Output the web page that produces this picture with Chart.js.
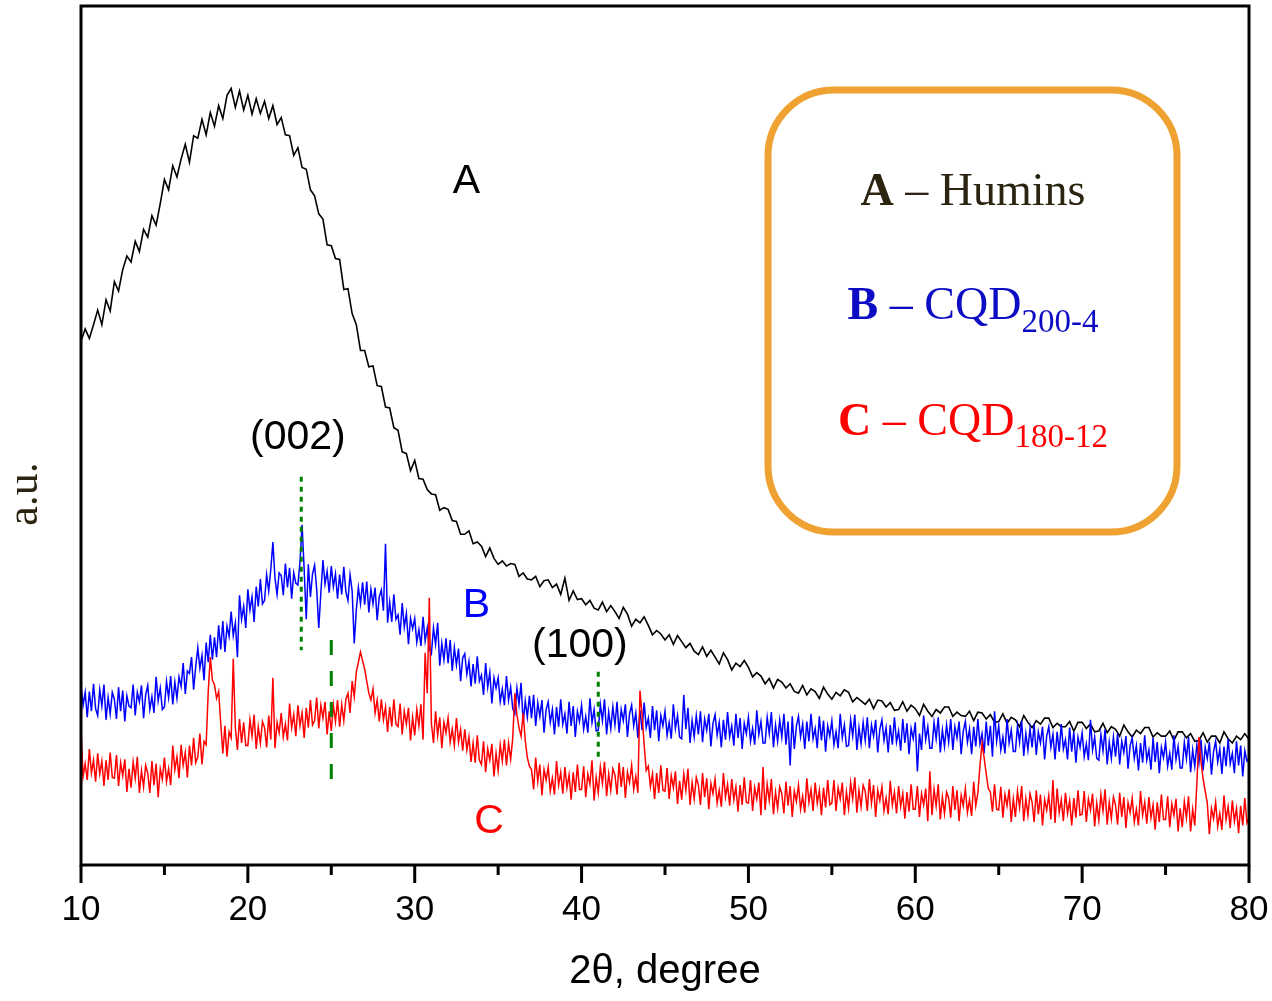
<!DOCTYPE html>
<html>
<head>
<meta charset="utf-8">
<script src="https://cdn.jsdelivr.net/npm/chart.js@4.4.1/dist/chart.umd.min.js"></script>
<style>
  html, body { margin: 0; padding: 0; background: #fff; }
  #wrap { width: 1272px; height: 1001px; }
</style>
</head>
<body>
<div id="wrap"><canvas id="xrd" width="1272" height="1001"></canvas></div>
<script>
// =====================
// Data (2θ from 10° to 80°)
// =====================
const angleStart = 10;
const huminsStep = 0.25;   // one reading every 0.25°
const cqdStep = 0.125;     // one reading every 0.125°
const majorTicks = [10, 20, 30, 40, 50, 60, 70, 80];
const minorTicks = [15, 25, 35, 45, 55, 65, 75];

// A - Humins (black), 4 readings per degree
const humins = [
  61.0, 62.4, 61.3, 62.9,  64.6, 62.9, 65.8, 64.5,  67.9, 66.8, 69.3, 70.9,  70.2, 72.6, 71.4, 74.0,  73.1, 75.6, 74.5, 77.0,
  79.8, 78.6, 81.4, 80.1,  82.2, 83.9, 81.8, 84.9,  84.6, 86.8, 85.0, 87.6,  86.0, 88.4, 86.9, 89.6,  90.4, 88.2, 90.1, 87.9,
  89.6, 87.4, 89.2, 87.5,  88.9, 86.9, 88.4, 86.2,  87.0, 85.0, 84.9, 82.6,  83.5, 81.2, 81.0, 78.6,  77.9, 75.8, 75.2, 72.2,
  72.1, 70.6, 70.5, 67.0,  67.1, 64.2, 62.9, 59.9,  59.9, 58.0, 58.1, 55.8,  55.7, 53.3, 53.2, 50.9,  50.6, 48.1, 47.9, 45.9,
  47.1, 45.0, 44.9, 43.7,  43.2, 43.1, 41.3, 41.6,  41.4, 40.1, 40.0, 38.5,  38.5, 38.9, 37.4, 37.6,  37.1, 35.9, 36.9, 35.7,
  35.0, 35.4, 34.8, 35.1,  35.0, 33.6, 34.0, 33.3,  33.2, 33.6, 32.4, 33.1,  33.2, 32.3, 32.7, 31.5,  33.4, 30.8, 31.9, 30.9,
  31.0, 30.3, 30.8, 29.9,  29.7, 30.6, 29.5, 30.2,  29.5, 28.7, 30.0, 29.2,  27.8, 28.6, 28.2, 28.9,  27.9, 26.8, 27.3, 26.9,
  26.2, 26.8, 25.7, 26.7,  26.0, 25.3, 25.8, 24.9,  24.5, 25.4, 24.3, 25.0,  24.2, 23.4, 24.7, 23.9,  22.7, 23.5, 23.1, 23.8,
  23.0, 21.9, 22.4, 22.0,  21.1, 21.7, 20.6, 21.6,  21.3, 20.6, 21.1, 20.2,  20.0, 20.9, 19.8, 20.5,  20.2, 19.4, 20.7, 19.9,
  19.3, 20.1, 19.7, 20.4,  20.1, 19.0, 19.5, 19.1,  18.7, 19.3, 18.2, 19.2,  19.1, 18.4, 18.9, 18.0,  18.1, 19.0, 17.9, 18.6,
  18.2, 17.4, 18.7, 17.9,  17.3, 18.1, 17.7, 18.4,  18.4, 17.3, 17.8, 17.4,  17.3, 17.9, 16.8, 17.8,  17.7, 17.0, 17.5, 16.6,
  16.7, 17.6, 16.5, 17.2,  16.9, 16.1, 17.4, 16.6,  16.0, 16.8, 16.4, 17.1,  17.1, 16.0, 16.5, 16.1,  16.1, 16.7, 15.6, 16.6,
  16.6, 15.9, 16.4, 15.5,  15.6, 16.5, 15.4, 16.1,  15.8, 15.0, 16.3, 15.5,  14.9, 15.7, 15.3, 16.0,  16.0, 14.9, 15.4, 15.0,
  15.0, 15.6, 14.5, 15.5,  15.5, 14.8, 15.3, 14.4,  14.5, 15.4, 14.3, 15.0,  15.0, 14.2, 15.5, 14.7,  14.2, 15.0, 14.6, 15.3,
  14.6
];

// B - CQD 200-4 (blue), 8 readings per degree, one row per degree from 10°
const cqd2004 = [
  21.0, 18.6, 20.1, 17.2, 20.2, 17.9, 21.1, 18.2,
  17.4, 20.4, 18.5, 21.0, 16.9, 19.5, 17.6, 20.1,
  19.3, 17.0, 20.7, 17.9, 20.3, 16.7, 19.7, 18.5,
  18.3, 21.0, 17.4, 20.1, 19.0, 20.9, 17.1, 19.8,
  20.9, 18.1, 19.6, 17.7, 21.9, 19.1, 20.6, 18.1,
  18.4, 21.4, 19.5, 22.0, 18.7, 21.3, 19.4, 21.9,
  20.8, 23.5, 19.9, 22.6, 22.3, 24.2, 20.4, 23.1,
  25.3, 22.9, 24.4, 21.5, 25.9, 23.6, 26.8, 23.9,
  26.5, 24.2, 27.9, 25.1, 28.4, 24.8, 27.8, 26.6,
  29.5, 26.7, 28.2, 24.2, 31.4, 28.6, 30.1, 27.6,
  32.1, 29.7, 31.2, 28.3, 32.4, 30.1, 33.3, 30.4,
  30.8, 33.8, 31.9, 34.4, 37.6, 33.4, 31.5, 34.0,
  33.7, 31.4, 35.1, 32.3, 34.6, 31.0, 34.0, 32.8,
  32.6, 35.3, 39.6, 34.4, 28.6, 35.0, 31.2, 33.9,
  34.9, 32.1, 27.6, 31.7, 35.5, 32.7, 34.2, 31.7,
  34.8, 32.4, 33.9, 31.0, 33.8, 31.5, 34.7, 31.8,
  30.8, 33.8, 31.9, 25.8, 29.7, 32.3, 30.4, 32.9,
  30.3, 33.0, 29.4, 32.1, 30.4, 32.3, 28.5, 31.2,
  32.0, 29.6, 37.4, 28.2, 30.6, 28.3, 31.5, 28.6,
  29.1, 26.8, 30.5, 27.7, 29.3, 25.7, 28.7, 27.5,
  28.7, 25.9, 27.4, 25.5, 28.9, 26.1, 27.6, 25.1,
  24.6, 27.6, 25.7, 28.2, 23.2, 25.8, 23.9, 26.4,
  23.5, 26.2, 22.6, 25.3, 23.3, 25.2, 21.4, 24.1,
  24.6, 22.2, 23.7, 20.8, 23.4, 21.1, 24.3, 21.4,
  22.1, 19.8, 23.5, 20.7, 22.4, 18.8, 21.8, 20.6,
  21.8, 19.0, 20.5, 18.6, 22.0, 19.2, 20.7, 18.2,
  17.6, 20.6, 18.7, 21.2, 16.5, 19.1, 17.2, 19.7,
  17.1, 19.8, 16.2, 18.9, 17.3, 19.2, 15.4, 18.1,
  19.0, 16.6, 18.1, 15.2, 18.4, 16.1, 19.3, 16.4,
  17.6, 15.3, 19.0, 16.2, 18.5, 14.9, 17.9, 16.7,
  18.6, 15.8, 17.3, 15.4, 19.4, 16.6, 18.1, 15.6,
  15.7, 18.7, 16.8, 19.3, 15.2, 17.8, 15.9, 18.4,
  16.3, 19.0, 15.4, 18.1, 16.8, 18.7, 14.9, 17.6,
  18.6, 16.2, 17.7, 14.8, 18.0, 15.7, 18.9, 16.0,
  17.1, 14.8, 18.5, 15.7, 18.0, 14.4, 17.4, 16.2,
  17.9, 15.1, 16.6, 14.7, 18.7, 15.9, 17.4, 14.9,
  14.7, 19.8, 15.8, 18.3, 14.2, 16.8, 14.9, 17.4,
  15.2, 17.9, 14.3, 17.0, 15.7, 17.6, 13.8, 16.5,
  17.5, 15.1, 16.6, 13.7, 16.9, 14.6, 17.8, 14.9,
  16.2, 13.9, 17.6, 14.8, 17.1, 13.5, 16.5, 15.3,
  17.2, 14.4, 15.9, 14.0, 18.0, 15.2, 16.7, 14.2,
  14.2, 17.2, 15.3, 17.8, 13.7, 16.3, 14.4, 16.9,
  14.9, 17.6, 14.0, 16.7, 11.6, 17.3, 13.5, 16.2,
  17.3, 14.9, 16.4, 13.5, 16.7, 14.4, 17.6, 14.7,
  15.9, 13.6, 17.3, 14.5, 16.8, 13.2, 16.2, 15.0,
  16.8, 14.0, 15.5, 13.6, 17.6, 14.8, 16.3, 13.8,
  13.9, 16.9, 15.0, 17.5, 13.4, 16.0, 14.1, 16.6,
  14.5, 17.2, 13.6, 16.3, 15.0, 16.9, 13.1, 15.8,
  16.9, 14.5, 16.0, 13.1, 16.3, 14.0, 17.2, 14.3,
  15.6, 13.3, 17.0, 14.2, 16.5, 12.9, 15.9, 14.7,
  16.6, 10.9, 15.3, 13.4, 17.4, 14.6, 16.1, 13.6,
  13.6, 16.6, 14.7, 17.2, 13.1, 15.7, 13.8, 16.3,
  14.3, 17.0, 13.4, 16.1, 14.8, 16.7, 12.9, 15.6,
  16.7, 14.3, 15.8, 12.9, 16.1, 13.8, 17.0, 14.1,
  15.3, 13.0, 16.7, 13.9, 16.2, 12.6, 17.9, 14.4,
  16.2, 13.4, 14.9, 13.0, 17.0, 14.2, 15.7, 13.2,
  13.2, 16.2, 14.3, 16.8, 12.7, 15.3, 13.4, 15.9,
  13.7, 16.4, 12.8, 15.5, 14.2, 16.1, 12.3, 15.0,
  16.1, 13.7, 15.2, 12.3, 15.5, 13.2, 16.4, 13.5,
  14.6, 12.3, 16.0, 13.2, 15.5, 11.9, 14.9, 13.7,
  15.4, 12.6, 14.1, 12.2, 16.9, 13.4, 14.9, 12.4,
  12.2, 15.2, 13.3, 15.8, 11.7, 14.3, 12.4, 14.9,
  12.6, 15.3, 11.7, 14.4, 13.1, 15.0, 11.2, 13.9,
  14.8, 12.4, 13.9, 11.0, 14.2, 11.9, 15.1, 12.2,
  13.4, 11.1, 14.8, 12.0, 14.3, 10.7, 13.7, 12.5,
  14.3, 11.5, 13.0, 11.1, 15.1, 12.3, 13.8, 11.3,
  11.3, 14.3, 12.4, 14.9, 10.8, 13.4, 11.5, 14.0,
  11.9, 14.6, 11.0, 13.7, 12.4, 14.3, 10.5, 13.2,
  14.4, 12.0, 13.5, 10.6, 13.8, 11.5, 14.7, 11.8,
  13.0, 10.7, 14.4, 11.6, 13.9, 10.3, 13.3, 12.1,
  12.4
];

// C - CQD 180-12 (red), 8 readings per degree, one row per degree from 10°
const cqd18012 = [
  15.8, 10.3, 11.8,  9.9, 13.5, 10.7, 12.2,  9.7,
  13.0, 10.6, 12.1,  9.2, 12.2,  9.9, 13.1, 10.2,
  10.1, 12.8,  9.2, 11.9, 10.4, 12.3,  8.5, 11.2,
   9.0, 12.0, 10.1, 12.6,  8.4, 11.0,  9.1, 11.6,
  10.7,  8.4, 12.1,  9.3, 11.8,  7.9, 11.2, 10.0,
  12.5,  9.7, 11.2,  9.3, 13.9, 11.1, 12.6, 10.1,
  14.0, 11.6, 13.1, 10.2, 13.9, 11.6, 14.8, 11.9,
  12.6, 15.3, 11.7, 14.4, 14.0, 20.2, 24.2, 21.5,
  21.0, 19.4, 20.2, 16.5, 13.0, 16.2, 12.6, 15.5,
  14.8, 24.0, 16.0, 13.4, 17.0, 14.2, 16.6, 13.9,
  13.9, 16.9, 15.0, 17.5, 13.5, 16.1, 14.2, 16.7,
  16.0, 13.7, 17.4, 14.6, 21.8, 13.6, 16.6, 15.4,
  17.7, 14.9, 16.4, 14.5, 18.8, 16.0, 17.5, 15.0,
  18.6, 16.2, 17.7, 14.8, 18.3, 16.0, 19.2, 16.3,
  16.8, 19.5, 15.9, 18.6, 17.1, 19.0, 15.2, 17.9,
  15.6, 18.6, 16.7, 19.2, 16.1, 18.7, 16.8, 19.3,
  20.0, 17.7, 21.4, 19.6, 22.5, 23.6, 24.8, 23.8,
  22.8, 21.4, 20.0, 19.2, 20.5, 17.7, 19.2, 16.7,
  19.3, 16.9, 18.4, 15.5, 18.4, 16.1, 19.3, 16.4,
  16.1, 18.8, 15.2, 17.9, 16.4, 18.3, 14.5, 17.2,
  15.1, 18.1, 16.2, 18.7, 14.6, 24.7, 20.0, 31.1,
  16.5, 14.2, 17.9, 15.1, 17.2, 13.6, 16.6, 15.4,
  17.1, 14.3, 15.8, 13.9, 17.1, 14.3, 15.8, 13.3,
  15.8, 13.4, 14.9, 12.0, 14.2, 11.9, 15.1, 12.2,
  11.7, 14.4, 10.8, 13.5, 12.2, 14.1, 10.3, 13.0,
  11.0, 14.0, 12.1, 14.6, 11.6, 14.2, 12.3, 14.8,
  20.0, 17.5, 16.0, 15.0, 17.7, 14.5, 12.5, 11.5,
  11.1,  8.8, 12.5,  9.7, 11.7,  8.1, 11.1,  9.9,
  11.4,  8.6, 10.1,  8.2, 12.1,  9.3, 10.8,  8.3,
  11.4,  9.0, 10.5,  7.6, 10.8,  8.5, 11.7,  8.8,
   8.8, 11.5,  7.9, 10.6,  9.4, 12.2,  7.5, 10.2,
   8.4, 11.4,  9.5, 12.0,  8.0, 10.6,  8.7, 11.2,
  10.5,  8.2, 11.9,  9.1, 11.4,  7.8, 10.8,  9.6,
  11.6,  8.8, 10.3,  8.4, 20.3, 17.5, 14.0, 11.0,
  11.5,  9.1, 10.6,  7.7, 10.7,  8.4, 11.6,  8.7,
   8.6, 11.3,  7.7, 10.4,  9.0, 10.9,  7.1,  9.8,
   7.6, 10.6,  8.7, 11.2,  7.0,  9.6,  7.7, 10.2,
   9.3,  7.0, 10.7,  7.9, 10.1,  6.5,  9.5,  8.3,
  10.0,  7.2,  8.7,  6.8, 10.7,  7.9,  9.4,  6.9,
  10.0,  7.6,  9.1,  6.2,  9.3,  7.0, 10.2,  7.3,
   7.2,  9.9,  6.3,  9.0,  7.7,  9.6,  5.8, 11.4,
   6.4,  9.4,  7.5, 10.0,  5.9,  8.5,  6.6,  9.1,
   8.3,  6.0,  9.7,  6.9,  9.2,  5.6,  8.6,  7.4,
   9.3,  6.5,  8.0,  6.1, 10.1,  7.3,  8.8,  6.3,
   9.6,  7.2,  8.7,  5.8,  9.0,  6.7,  9.9,  7.0,
   7.2,  9.9,  6.3,  9.0,  7.7,  9.6,  5.8,  8.5,
   6.6,  9.6,  7.7, 10.2,  6.1,  8.7,  6.8,  9.3,
   8.6,  6.3, 10.0,  7.2,  9.3,  5.6,  8.7,  7.5,
   9.1,  6.3,  7.8,  5.9,  9.8,  7.0,  8.5,  6.0,
   9.2,  6.8,  8.3,  5.4,  8.5,  6.2,  9.4,  6.5,
   6.5,  9.2,  5.6,  8.3,  7.0,  8.9,  5.1, 10.9,
   5.8,  8.8,  6.9,  9.4,  5.3,  7.9,  6.0,  8.5,
   7.8,  5.5,  9.2,  6.4,  8.7,  5.1,  8.1,  6.9,
   8.9,  6.1,  7.6,  5.7,  9.7,  6.9,  8.4, 11.5,
  14.2, 12.5, 10.6,  8.9,  8.5,  6.2,  9.4,  6.5,
   6.4,  9.1,  5.5,  8.2,  6.9,  8.8,  5.0,  7.7,
   5.6,  8.6,  6.7,  9.2,  5.1,  7.7,  5.8,  8.3,
   7.3,  5.0,  8.7,  5.9,  8.2,  4.6,  7.6,  6.4,
   8.1,  5.3,  9.9,  4.9,  8.9,  6.1,  7.6,  5.1,
   8.4,  6.0,  7.5,  4.6,  7.8,  5.5,  8.7,  5.8,
   5.9,  8.6,  5.0,  7.7,  6.4,  8.3,  4.5,  7.2,
   5.2,  8.2,  6.3,  8.8,  4.7,  7.3,  5.4,  7.9,
   7.0,  4.7,  8.4,  5.6,  7.9,  4.3,  7.3,  6.1,
   7.8,  5.0,  6.5,  4.6,  8.6,  5.8,  7.3,  4.8,
   7.9,  5.5,  7.0,  4.1,  7.3,  5.0,  8.2,  5.3,
   5.3,  8.0,  4.4,  7.1,  5.8,  7.7,  3.9,  6.6,
   4.4,  7.4,  5.5,  8.0,  3.9,  6.5,  4.6,  9.5,
  14.9, 12.0, 10.0,  8.6,  7.2,  3.6,  6.6,  5.4,
   7.3,  4.5,  6.0,  4.1,  8.1,  5.3,  6.8,  4.3,
   7.5,  5.1,  6.6,  3.7,  6.9,  4.6,  7.8,  4.9,
   5.5
];

// reflection markers for the (002) and (100) planes
const markerLines = [
  { x: 23.2, from: 45.2, to: 25.0, dash: [5, 5] },
  { x: 25.0, from: 26.2, to: 9.9, dash: [15, 16] },
  { x: 41.0, from: 22.5, to: 12.2, dash: [5, 5] }
];

const toPoints = (arr, step) => arr.map((v, i) => ({ x: angleStart + i * step, y: v }));

// =====================
// Frame, ticks and text overlay
// =====================
function drawRich(ctx, parts, cx, base) {
  let total = 0;
  parts.forEach(p => { ctx.font = p.font; p.w = ctx.measureText(p.text).width; total += p.w; });
  let x = cx - total / 2;
  parts.forEach(p => {
    ctx.font = p.font;
    ctx.fillStyle = p.color;
    ctx.fillText(p.text, x, base + (p.dy || 0));
    x += p.w;
  });
}

const overlay = {
  id: 'overlay',
  afterDatasetsDraw(chart) {
    const { ctx, chartArea: a, scales: { x, y } } = chart;
    ctx.save();
    ctx.strokeStyle = '#000';
    ctx.lineWidth = 3;
    ctx.strokeRect(a.left, a.top, a.right - a.left, a.bottom - a.top);

    majorTicks.forEach(v => {
      const px = x.getPixelForValue(v);
      ctx.beginPath(); ctx.moveTo(px, a.bottom); ctx.lineTo(px, a.bottom + 18); ctx.stroke();
    });
    minorTicks.forEach(v => {
      const px = x.getPixelForValue(v);
      ctx.beginPath(); ctx.moveTo(px, a.bottom); ctx.lineTo(px, a.bottom + 10); ctx.stroke();
    });

    // curve and plane labels
    ctx.font = '41px "Liberation Sans", Arial, sans-serif';
    ctx.textAlign = 'center';
    ctx.textBaseline = 'middle';
    [['A', 33.1, 79.6, '#000'], ['B', 33.7, 30.2, '#0000ff'], ['C', 34.45, 5.1, '#ff0000'],
     ['(002)', 23.0, 49.8, '#000'], ['(100)', 39.9, 25.5, '#000']].forEach(([t, vx, vy, c]) => {
      ctx.fillStyle = c;
      ctx.fillText(t, x.getPixelForValue(vx), y.getPixelForValue(vy));
    });

    // y title
    ctx.save();
    ctx.translate(37, 494);
    ctx.rotate(-Math.PI / 2);
    ctx.textBaseline = 'alphabetic';
    ctx.font = '44px "Liberation Serif", "Times New Roman", serif';
    ctx.fillStyle = '#2b2410';
    ctx.fillText('a.u.', 0, 0);
    ctx.restore();

    // legend box
    ctx.beginPath();
    ctx.roundRect(768, 90, 409, 442, 66);
    ctx.fillStyle = '#fff';
    ctx.fill();
    ctx.lineWidth = 7;
    ctx.strokeStyle = '#efa232';
    ctx.stroke();

    ctx.textAlign = 'left';
    ctx.textBaseline = 'alphabetic';
    const serif = '"Liberation Serif", "Times New Roman", serif';
    const main = '46px ' + serif, bold = 'bold 46px ' + serif, sub = '33px ' + serif;
    drawRich(ctx, [
      { text: 'A', font: bold, color: '#2b2410' },
      { text: ' \u2013 Humins', font: main, color: '#2b2410' }
    ], 973, 205);
    drawRich(ctx, [
      { text: 'B', font: bold, color: '#0c0cc4' },
      { text: ' \u2013 CQD', font: main, color: '#0c0cc4' },
      { text: '200-4', font: sub, color: '#0c0cc4', dy: 13 }
    ], 973, 319);
    drawRich(ctx, [
      { text: 'C', font: bold, color: '#ff0000' },
      { text: ' \u2013 CQD', font: main, color: '#ff0000' },
      { text: '180-12', font: sub, color: '#ff0000', dy: 12 }
    ], 973, 435);
    ctx.restore();
  }
};

// =====================
// Chart
// =====================
new Chart(document.getElementById('xrd'), {
  type: 'line',
  data: {
    datasets: [
      ...markerLines.map(m => ({
        data: [{ x: m.x, y: m.from }, { x: m.x, y: m.to }],
        borderColor: '#008000', borderWidth: 3, borderDash: m.dash, order: 0
      })),
      { label: 'C', data: toPoints(cqd18012, cqdStep), borderColor: '#ff0000', borderWidth: 1.5, order: 1 },
      { label: 'B', data: toPoints(cqd2004, cqdStep), borderColor: '#0000ff', borderWidth: 1.5, order: 2 },
      { label: 'A', data: toPoints(humins, huminsStep), borderColor: '#000000', borderWidth: 1.6, order: 3 }
    ]
  },
  options: {
    responsive: false,
    animation: false,
    elements: { point: { radius: 0 }, line: { tension: 0 } },
    layout: { padding: { left: 81, right: 23, top: 6, bottom: 0 } },
    plugins: { legend: { display: false }, tooltip: { enabled: false } },
    scales: {
      x: {
        type: 'linear', min: 10, max: 80,
        afterFit: s => { s.height = 136; s.paddingLeft = 0; s.paddingRight = 0; },
        afterBuildTicks: s => { s.ticks = majorTicks.map(v => ({ value: v })); },
        grid: { display: false, drawTicks: false },
        border: { display: false },
        ticks: { font: { family: 'Liberation Sans', size: 35 }, color: '#000', padding: 24, maxRotation: 0, autoSkip: false },
        title: {
          display: true, text: '2\u03b8, degree', color: '#000',
          font: { family: 'Liberation Sans', size: 40 }, padding: { top: 0, bottom: 5 }
        }
      },
      y: { min: 0, max: 100, display: false }
    }
  },
  plugins: [overlay]
});
</script>
</body>
</html>
